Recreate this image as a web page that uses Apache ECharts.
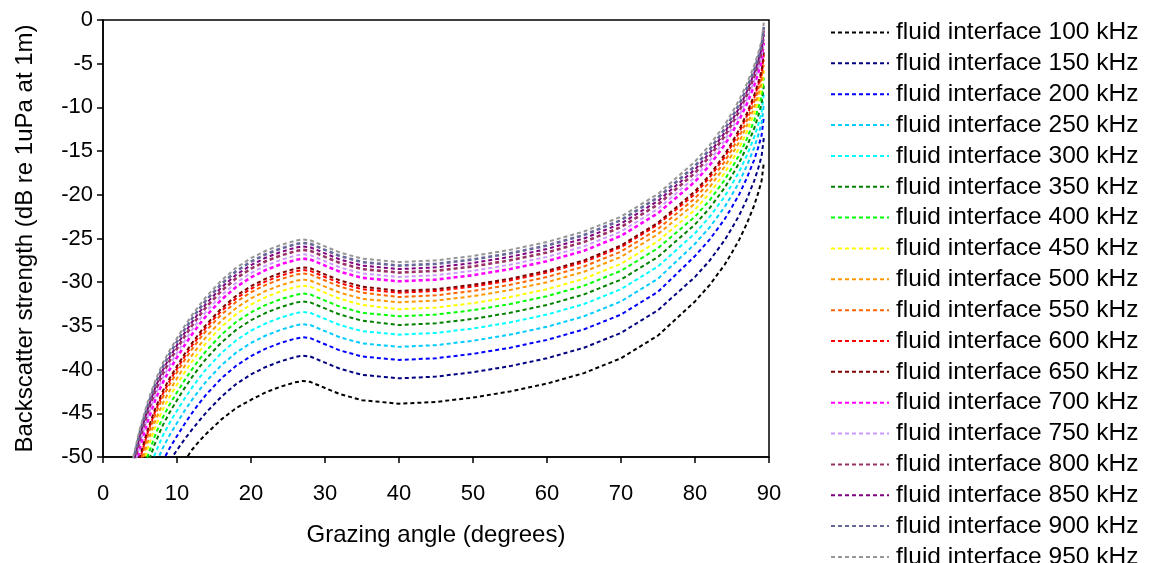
<!DOCTYPE html>
<html><head><meta charset="utf-8">
<script src="https://cdn.jsdelivr.net/npm/echarts@6/dist/echarts.min.js"></script>
<style>html,body{margin:0;padding:0;background:#fff}#c{width:1156px;height:563px}</style>
</head><body><div id="c"></div>
<script>
const angles = [3,4,5,6,7,8,9,10,11,12,13,14,16,18,20,22,24,26,27,28,30,32,35,40,45,50,55,60,65,70,75,80,82,84,85,86,87,88,88.5,89,89.3];
const freqs = [100,150,200,250,300,350,400,450,500,550,600,650,700,750,800,850,900,950];
const s100 = [-71,-66.5,-62.9,-60,-57.6,-55.6,-53.7,-52.0,-50.5,-49.2,-48.2,-47.3,-45.7,-44.4,-43.45,-42.6,-41.95,-41.45,-41.3,-41.4,-42.1,-42.8,-43.5,-43.9,-43.7,-43.2,-42.5,-41.6,-40.4,-38.7,-36.1,-32.2,-30.3,-28.0,-26.6,-25.1,-23.3,-21.2,-19.9,-18.4,-16.3];
const s150 = [-68,-63.4,-59.7,-56.7,-54.2,-52.1,-50.5,-49.2,-48.0,-46.9,-45.85,-44.85,-43.1,-41.65,-40.55,-39.7,-39.05,-38.55,-38.4,-38.5,-39.2,-39.9,-40.6,-41.0,-40.8,-40.3,-39.6,-38.7,-37.5,-35.8,-33.2,-29.4,-27.5,-25.2,-23.8,-22.3,-20.5,-18.4,-17.1,-15.6,-13.5];
const s200 = [-66.0,-61.5,-57.9,-55.0,-52.6,-50.6,-49.0,-47.6,-46.25,-45.0,-43.85,-42.8,-41.0,-39.55,-38.45,-37.6,-36.95,-36.45,-36.3,-36.4,-37.1,-37.8,-38.5,-38.9,-38.7,-38.2,-37.5,-36.6,-35.4,-33.7,-31.1,-27.0,-25.1,-22.8,-21.4,-19.9,-18.1,-16.0,-14.7,-13.2,-11.1];
const s250 = [-64.5,-60.0,-56.4,-53.5,-51.1,-49.1,-47.5,-46.1,-44.75,-43.5,-42.35,-41.3,-39.5,-38.05,-36.95,-36.1,-35.45,-34.95,-34.8,-34.9,-35.6,-36.3,-37.0,-37.4,-37.2,-36.7,-36.0,-35.1,-33.9,-32.2,-29.6,-25.6,-23.7,-21.4,-20.0,-18.5,-16.7,-14.6,-13.3,-11.8,-9.7];
const s300 = [-63.1,-58.6,-55.0,-52.1,-49.7,-47.7,-46.1,-44.7,-43.35,-42.1,-40.95,-39.9,-38.1,-36.65,-35.55,-34.7,-34.05,-33.55,-33.4,-33.5,-34.2,-34.9,-35.6,-36.0,-35.8,-35.3,-34.6,-33.7,-32.5,-30.8,-28.2,-24.4,-22.5,-20.2,-18.8,-17.3,-15.5,-13.4,-12.1,-10.6,-8.5];
const s350 = [-61.9,-57.4,-53.8,-50.9,-48.5,-46.5,-44.9,-43.5,-42.15,-40.9,-39.75,-38.7,-36.9,-35.45,-34.35,-33.5,-32.85,-32.35,-32.2,-32.3,-33.0,-33.7,-34.4,-34.9,-34.7,-34.2,-33.5,-32.6,-31.4,-29.7,-27.1,-23.4,-21.5,-19.2,-17.8,-16.3,-14.5,-12.4,-11.1,-9.6,-7.5];
const s400 = [-61.0,-56.5,-52.9,-50.0,-47.6,-45.6,-44.0,-42.6,-41.25,-40.0,-38.85,-37.8,-36.0,-34.55,-33.45,-32.6,-31.95,-31.45,-31.3,-31.4,-32.1,-32.8,-33.5,-33.9,-33.7,-33.2,-32.5,-31.6,-30.4,-28.7,-26.1,-22.5,-20.6,-18.3,-16.9,-15.4,-13.6,-11.5,-10.2,-8.7,-6.6];
const s450 = [-60.1,-55.6,-52.0,-49.1,-46.7,-44.7,-43.1,-41.7,-40.35,-39.1,-37.95,-36.9,-35.1,-33.65,-32.55,-31.7,-31.05,-30.55,-30.4,-30.5,-31.2,-31.9,-32.6,-33.1,-32.9,-32.4,-31.7,-30.8,-29.6,-27.9,-25.3,-21.7,-19.8,-17.5,-16.1,-14.6,-12.8,-10.7,-9.4,-7.9,-5.8];
const s500 = [-59.4,-54.9,-51.3,-48.4,-46.0,-44.0,-42.4,-41.0,-39.65,-38.4,-37.25,-36.2,-34.4,-32.95,-31.85,-31.0,-30.35,-29.85,-29.7,-29.8,-30.5,-31.2,-31.9,-32.3,-32.1,-31.6,-30.9,-30.0,-28.8,-27.1,-24.5,-21.0,-19.1,-16.8,-15.4,-13.9,-12.1,-10.0,-8.7,-7.2,-5.1];
const s550 = [-58.7,-54.2,-50.6,-47.7,-45.3,-43.3,-41.7,-40.3,-38.95,-37.7,-36.55,-35.5,-33.7,-32.25,-31.15,-30.3,-29.65,-29.15,-29.0,-29.1,-29.8,-30.5,-31.2,-31.7,-31.5,-31.0,-30.3,-29.4,-28.2,-26.5,-23.9,-20.4,-18.5,-16.2,-14.8,-13.3,-11.5,-9.4,-8.1,-6.6,-4.5];
const s600 = [-58.3,-53.8,-50.2,-47.3,-44.9,-42.9,-41.3,-39.9,-38.55,-37.3,-36.15,-35.1,-33.3,-31.85,-30.75,-29.9,-29.25,-28.75,-28.6,-28.7,-29.4,-30.1,-30.8,-31.2,-31.0,-30.5,-29.8,-28.9,-27.7,-26.0,-23.4,-19.9,-18.0,-15.7,-14.3,-12.8,-11.0,-8.9,-7.6,-6.1,-4.0];
const s650 = [-58.0,-53.5,-49.9,-47.0,-44.6,-42.6,-41.0,-39.6,-38.25,-37.0,-35.85,-34.8,-33.0,-31.55,-30.45,-29.6,-28.95,-28.45,-28.3,-28.4,-29.1,-29.8,-30.5,-31.0,-30.8,-30.3,-29.6,-28.7,-27.5,-25.8,-23.2,-19.6,-17.7,-15.4,-14.0,-12.5,-10.7,-8.6,-7.3,-5.8,-3.7];
const s700 = [-57.0,-52.5,-48.9,-46.0,-43.6,-41.6,-40.0,-38.6,-37.25,-36.0,-34.85,-33.8,-32.0,-30.55,-29.45,-28.6,-27.95,-27.45,-27.3,-27.4,-28.1,-28.8,-29.5,-29.9,-29.7,-29.2,-28.5,-27.6,-26.4,-24.7,-22.1,-18.5,-16.6,-14.3,-12.9,-11.4,-9.6,-7.5,-6.2,-4.7,-2.6];
const s750 = [-56.5,-52.0,-48.4,-45.5,-43.1,-41.1,-39.5,-38.1,-36.75,-35.5,-34.35,-33.3,-31.5,-30.05,-28.95,-28.1,-27.45,-26.95,-26.8,-26.9,-27.6,-28.3,-29.0,-29.4,-29.2,-28.7,-28.0,-27.1,-25.9,-24.2,-21.6,-18.0,-16.1,-13.8,-12.4,-10.9,-9.1,-7.0,-5.7,-4.2,-2.1];
const s800 = [-56.0,-51.5,-47.9,-45.0,-42.6,-40.6,-39.0,-37.6,-36.25,-35.0,-33.85,-32.8,-31.0,-29.55,-28.45,-27.6,-26.95,-26.45,-26.3,-26.4,-27.1,-27.8,-28.5,-28.9,-28.7,-28.2,-27.5,-26.6,-25.4,-23.7,-21.1,-17.5,-15.6,-13.3,-11.9,-10.4,-8.6,-6.5,-5.2,-3.7,-1.6];
const s850 = [-55.6,-51.1,-47.5,-44.6,-42.2,-40.2,-38.6,-37.2,-35.85,-34.6,-33.45,-32.4,-30.6,-29.15,-28.05,-27.2,-26.55,-26.05,-25.9,-26.0,-26.7,-27.4,-28.1,-28.5,-28.3,-27.8,-27.1,-26.2,-25.0,-23.3,-20.7,-17.1,-15.2,-12.9,-11.5,-10.0,-8.2,-6.1,-4.8,-3.3,-1.2];
const s900 = [-55.2,-50.7,-47.1,-44.2,-41.8,-39.8,-38.2,-36.8,-35.45,-34.2,-33.05,-32.0,-30.2,-28.75,-27.65,-26.8,-26.15,-25.65,-25.5,-25.6,-26.3,-27.0,-27.7,-28.1,-27.9,-27.4,-26.7,-25.8,-24.6,-22.9,-20.3,-16.7,-14.8,-12.5,-11.1,-9.6,-7.8,-5.7,-4.4,-2.9,-0.8];
const s950 = [-54.8,-50.3,-46.7,-43.8,-41.4,-39.4,-37.8,-36.4,-35.05,-33.8,-32.65,-31.6,-29.8,-28.35,-27.25,-26.4,-25.75,-25.25,-25.1,-25.2,-25.9,-26.6,-27.3,-27.7,-27.5,-27.0,-26.3,-25.4,-24.2,-22.5,-19.9,-16.2,-14.3,-12.0,-10.6,-9.1,-7.3,-5.2,-3.9,-2.4,-0.3];
const seriesValues = [s100,s150,s200,s250,s300,s350,s400,s450,s500,s550,s600,s650,s700,s750,s800,s850,s900,s950];

const colors = ['#000000','#000080','#0000FF','#00CCFF','#00FFFF','#008000','#00FF00','#FFFF00','#FF9900','#FF6600','#FF0000','#800000','#FF00FF','#CC99FF','#993366','#800080','#666699','#969696'];
const widths = [2,2,2,2,2,2,2,2,2,2,2,2,2.6,2,2.6,2,2.6,2];
const FONT = '"Liberation Sans", Arial, sans-serif';

const series = freqs.map((f, i) => ({
  name: 'fluid interface ' + f + ' kHz',
  type: 'line',
  data: angles.map((a, j) => [a, seriesValues[i][j]]),
  symbol: 'none',
  smooth: false,
  clip: true,
  lineStyle: { color: colors[i], width: widths[i], type: [4, 3] },
  itemStyle: { color: colors[i] }
}));

const chart = echarts.init(document.getElementById('c'));
chart.setOption({
  animation: false,
  backgroundColor: '#fff',
  grid: { left: 103, top: 20, right: 387, bottom: 106, show: true, borderColor: '#000', borderWidth: 1.5, backgroundColor: 'transparent' },
  xAxis: {
    type: 'value', min: 0, max: 90, interval: 10,
    name: 'Grazing angle (degrees)', nameLocation: 'middle', nameGap: 66,
    nameTextStyle: { fontFamily: FONT, fontSize: 24, color: '#000' },
    axisLine: { show: true, onZero: false, lineStyle: { color: '#000', width: 1.5 } },
    axisTick: { show: true, inside: false, length: 6, lineStyle: { color: '#000', width: 1.5 } },
    axisLabel: { fontFamily: FONT, fontSize: 22, color: '#000', margin: 26 },
    splitLine: { show: false }
  },
  yAxis: {
    type: 'value', min: -50, max: 0, interval: 5,
    name: 'Backscatter strength (dB re 1uPa at 1m)', nameLocation: 'middle', nameGap: 66, nameRotate: 90,
    nameTextStyle: { fontFamily: FONT, fontSize: 24, color: '#000' },
    axisLine: { show: true, onZero: false, lineStyle: { color: '#000', width: 1.5 } },
    axisTick: { show: true, inside: false, length: 6, lineStyle: { color: '#000', width: 1.5 } },
    axisLabel: { fontFamily: FONT, fontSize: 22, color: '#000', margin: 10 },
    splitLine: { show: false }
  },
  legend: {
    orient: 'vertical', left: 830, top: 20, height: 620, padding: 0,
    itemWidth: 58, itemHeight: 14, itemGap: 5.85,
    itemStyle: { opacity: 0 },
    textStyle: { fontFamily: FONT, fontSize: 24.5, color: '#000', padding: [0, 0, 0, 2] },
    data: series.map(s => s.name)
  },
  series: series
});
</script></body></html>
